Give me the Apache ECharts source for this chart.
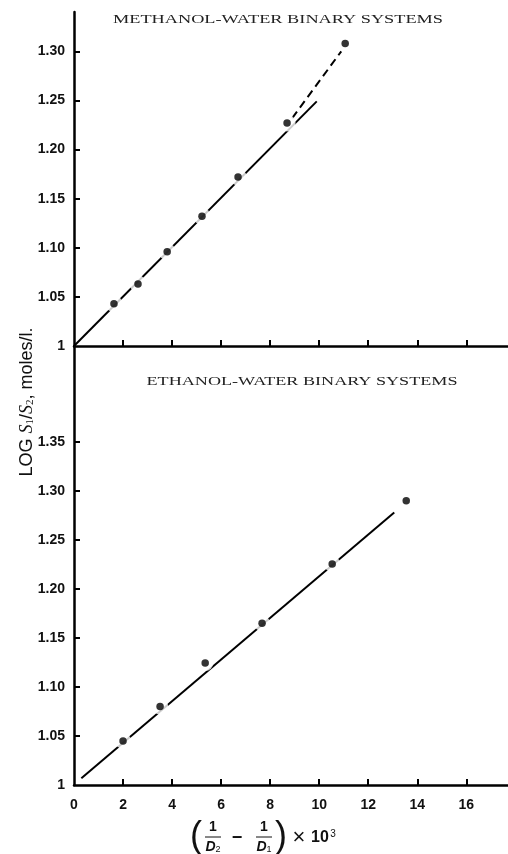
<!DOCTYPE html>
<html>
<head>
<meta charset="utf-8">
<script src="https://cdn.jsdelivr.net/npm/echarts@6/dist/echarts.min.js"></script>
<style>html,body{margin:0;padding:0;background:#fff;}#chart{width:508px;height:854px;}</style>
</head>
<body>
<div id="chart"></div>
<script>
// ---- data ----
var methanolPoints = [[1.63,1.043],[2.61,1.063],[3.80,1.096],[5.22,1.132],[6.69,1.172],[8.69,1.227],[11.06,1.308]];
var methanolFit = [[0.0,1.0],[9.9,1.249]];
var methanolFitDashed = [[8.9,1.232],[10.9,1.300]];
var ethanolPoints = [[2.0,1.045],[3.51,1.080],[5.35,1.1245],[7.67,1.165],[10.53,1.2255],[13.55,1.29]];
var ethanolFit = [[0.3,1.007],[13.06,1.278]];
var xTickValues = [2,4,6,8,10,12,14,16];
var xLabelValues = [0,2,4,6,8,10,12,14,16];
var yTopLabels = [1,1.05,1.10,1.15,1.20,1.25,1.30];
var yTopTicks = [1.05,1.10,1.15,1.20,1.25,1.30];
var yBottomLabels = [1,1.05,1.10,1.15,1.20,1.25,1.30,1.35];
var yBottomTicks = [1.05,1.10,1.15,1.20,1.25,1.30,1.35];
var titleTop = 'METHANOL-WATER BINARY SYSTEMS';
var titleBottom = 'ETHANOL-WATER BINARY SYSTEMS';

var chart = echarts.init(document.getElementById('chart'));
var FONT = '"Liberation Sans", Arial, sans-serif';
var SERIF = '"Liberation Serif", "Times New Roman", serif';

function measure(text, font) {
  var c = document.createElement('canvas').getContext('2d');
  c.font = font;
  return c.measureText(text).width;
}
function stretchedTitle(text, cx, cy, width) {
  var font = '12px ' + SERIF;
  var w = measure(text, font);
  return {type:'text', x:cx, y:cy, scaleX: width / w, scaleY: 1.05,
    style:{text:text, x:0, y:0, align:'center', verticalAlign:'middle', font:font, fill:'#222'}};
}

function yLabelFmt(v){ return Math.abs(v-1) < 1e-9 ? '1' : v.toFixed(2); }

var axisLineStyle = {color:'#000', width:2.5};
var tickStyle = {color:'#000', width:2};
var labelStyle = {color:'#111', fontFamily:FONT, fontSize:14, fontWeight:'bold'};

var option = {
  animation:false,
  backgroundColor:'#fff',
  grid:[
    {left:74, top:12, width:434, height:334},
    {left:74, top:346, width:434, height:439}
  ],
  xAxis:[
    {gridIndex:0, type:'value', min:0, max:17.7, interval:2,
     axisLine:{show:true, lineStyle:axisLineStyle},
     axisTick:{show:true, inside:true, length:6, lineStyle:tickStyle, customValues:xTickValues},
     axisLabel:{show:false}, splitLine:{show:false}},
    {gridIndex:1, type:'value', min:0, max:17.7, interval:2,
     axisLine:{show:true, lineStyle:axisLineStyle},
     axisTick:{show:true, inside:true, length:6, lineStyle:tickStyle, customValues:xTickValues},
     axisLabel:Object.assign({show:true, margin:13, customValues:xLabelValues}, labelStyle),
     splitLine:{show:false}}
  ],
  yAxis:[
    {gridIndex:0, type:'value', min:1, max:1.34, interval:0.05,
     axisLine:{show:true, lineStyle:axisLineStyle},
     axisTick:{show:true, inside:true, length:6, lineStyle:tickStyle, customValues:yTopTicks},
     axisLabel:Object.assign({show:true, margin:9, customValues:yTopLabels, formatter:yLabelFmt}, labelStyle),
     splitLine:{show:false}},
    {gridIndex:1, type:'value', min:1, max:1.448, interval:0.05,
     axisLine:{show:true, lineStyle:axisLineStyle},
     axisTick:{show:true, inside:true, length:6, lineStyle:tickStyle, customValues:yBottomTicks},
     axisLabel:Object.assign({show:true, margin:9, customValues:yBottomLabels, formatter:yLabelFmt}, labelStyle),
     splitLine:{show:false}}
  ],
  series:[
    {type:'line', xAxisIndex:0, yAxisIndex:0, data:methanolFit, showSymbol:false, z:2,
     lineStyle:{color:'#000', width:2}},
    {type:'line', xAxisIndex:0, yAxisIndex:0, data:methanolFitDashed, showSymbol:false, z:2,
     lineStyle:{color:'#000', width:2, type:[8,5]}},
    {type:'scatter', xAxisIndex:0, yAxisIndex:0, data:methanolPoints, symbolSize:17, z:3,
     itemStyle:{color:'#fff'}},
    {type:'scatter', xAxisIndex:0, yAxisIndex:0, data:methanolPoints, symbolSize:7.5, z:4,
     itemStyle:{color:'#000'}},
    {type:'line', xAxisIndex:1, yAxisIndex:1, data:ethanolFit, showSymbol:false, z:2,
     lineStyle:{color:'#000', width:2}},
    {type:'scatter', xAxisIndex:1, yAxisIndex:1, data:ethanolPoints, symbolSize:16, z:3,
     itemStyle:{color:'#fff'}},
    {type:'scatter', xAxisIndex:1, yAxisIndex:1, data:ethanolPoints, symbolSize:7.5, z:4,
     itemStyle:{color:'#000'}}
  ],
  graphic:[
    stretchedTitle(titleTop, 278, 20, 330),
    stretchedTitle(titleBottom, 302, 382, 311),
    {type:'text', x:27, y:402, rotation:Math.PI/2,
     style:{x:0, y:0, align:'center', verticalAlign:'middle', fill:'#111',
       text:'{a|LOG }{s|S}{b|1}{a|/}{s|S}{b|2}{a|, moles/l.}',
       rich:{
         a:{fontFamily:FONT, fontSize:18, fontWeight:'normal', fill:'#111'},
         s:{fontFamily:SERIF, fontSize:18, fontStyle:'italic', fill:'#111'},
         b:{fontFamily:SERIF, fontSize:11, fill:'#111', verticalAlign:'bottom', padding:[7,0,0,0]}
       }}},
    // x axis title: (1/D2 - 1/D1) x 10^3
    {type:'text', x:196, y:837, style:{text:'(', x:0, y:0, align:'center', verticalAlign:'middle', font:'36px '+FONT, fill:'#111'}},
    {type:'text', x:213, y:827, style:{text:'1', x:0, y:0, align:'center', verticalAlign:'middle', font:'bold 14px '+FONT, fill:'#111'}},
    {type:'line', shape:{x1:205, y1:837, x2:221, y2:837}, style:{stroke:'#111', lineWidth:1}},
    {type:'text', x:213, y:847, style:{x:0, y:0, align:'center', verticalAlign:'middle', fill:'#111',
      text:'{d|D}{s|2}', rich:{d:{fontFamily:FONT, fontSize:14, fontStyle:'italic', fontWeight:'bold'}, s:{fontFamily:FONT, fontSize:9, verticalAlign:'bottom', padding:[5,0,0,0]}}}},
    {type:'text', x:237, y:838, style:{text:'\u2212', x:0, y:0, align:'center', verticalAlign:'middle', font:'bold 18px '+FONT, fill:'#111'}},
    {type:'text', x:264, y:827, style:{text:'1', x:0, y:0, align:'center', verticalAlign:'middle', font:'bold 14px '+FONT, fill:'#111'}},
    {type:'line', shape:{x1:256, y1:837, x2:272, y2:837}, style:{stroke:'#111', lineWidth:1}},
    {type:'text', x:264, y:847, style:{x:0, y:0, align:'center', verticalAlign:'middle', fill:'#111',
      text:'{d|D}{s|1}', rich:{d:{fontFamily:FONT, fontSize:14, fontStyle:'italic', fontWeight:'bold'}, s:{fontFamily:FONT, fontSize:9, verticalAlign:'bottom', padding:[5,0,0,0]}}}},
    {type:'text', x:281, y:837, style:{text:')', x:0, y:0, align:'center', verticalAlign:'middle', font:'36px '+FONT, fill:'#111'}},
    {type:'text', x:299, y:838, style:{text:'\u00d7', x:0, y:0, align:'center', verticalAlign:'middle', font:'22px '+FONT, fill:'#111'}},
    {type:'text', x:320, y:838, style:{text:'10', x:0, y:0, align:'center', verticalAlign:'middle', font:'bold 16px '+FONT, fill:'#111'}},
    {type:'text', x:333, y:834, style:{text:'3', x:0, y:0, align:'center', verticalAlign:'middle', font:'10px '+FONT, fill:'#111'}}
  ]
};
chart.setOption(option);
</script>
</body>
</html>
